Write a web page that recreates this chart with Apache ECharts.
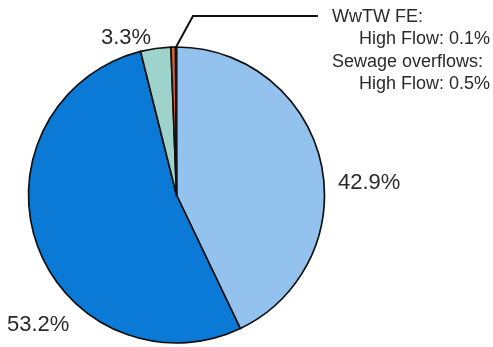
<!DOCTYPE html>
<html>
<head>
<meta charset="utf-8">
<script src="https://cdn.jsdelivr.net/npm/echarts@6/dist/echarts.min.js"></script>
<style>
html,body{margin:0;padding:0;background:#fff;}
#chart{width:493px;height:347px;}
</style>
</head>
<body>
<div id="chart"></div>
<script>
// Data (clockwise from 12 o'clock)
const sourceNames = ['Source A', 'Source B', 'Source C', 'Sewage overflows', 'WwTW FE'];
const flowLabels = ['', '', '', 'High Flow', 'High Flow'];
const shares = [42.9, 53.2, 3.3, 0.5, 0.1];
const sliceColors = ['#93c2ef', '#0a7ad6', '#9ed3cc', '#d3623a', '#a8321e'];

const chart = echarts.init(document.getElementById('chart'), null, {renderer: 'canvas'});

const data = shares.map((v, i) => ({
  name: sourceNames[i],
  value: v,
  itemStyle: {color: sliceColors[i]},
  labelLine: {show: i === 4, lineStyle: {color: '#111', width: 2}}
}));

// label placement (x, y, align, verticalAlign)
const labelPos = [
  {x: 338, y: 183, align: 'left', verticalAlign: 'middle'},
  {x: 7, y: 325, align: 'left', verticalAlign: 'middle'},
  {x: 101, y: 38, align: 'left', verticalAlign: 'middle'},
  {x: 332, y: 51, align: 'left', verticalAlign: 'top'},
  {x: 332, y: 6, align: 'left', verticalAlign: 'top'}
];

chart.setOption({
  animation: false,
  series: [{
    type: 'pie',
    center: [176.5, 195],
    radius: 148,
    startAngle: 90,
    clockwise: true,
    avoidLabelOverlap: false,
    itemStyle: {borderColor: '#111', borderWidth: 1.7},
    label: {
      show: true,
      fontFamily: 'Liberation Sans, Arial, sans-serif',
      fontSize: 22,
      color: '#2a2a2a',
      formatter: function (p) {
        const i = p.dataIndex;
        if (flowLabels[i]) {
          const head = i === 4 ? 'WwTW FE:' : p.name + ':';
          return '{a|' + head + '}\n{b|' + flowLabels[i] + ': ' + p.value.toFixed(1) + '%}';
        }
        return p.value.toFixed(1) + '%';
      },
      rich: {
        a: {fontFamily: 'Liberation Sans, Arial, sans-serif', fontSize: 18, lineHeight: 22, color: '#2a2a2a', align: 'left'},
        b: {fontFamily: 'Liberation Sans, Arial, sans-serif', fontSize: 18, lineHeight: 22, color: '#2a2a2a', align: 'right'}
      }
    },
    labelLine: {show: false},
    labelLayout: function (params) {
      const i = params.dataIndex;
      const pos = Object.assign({}, labelPos[i]);
      if (i === 4) {
        const start = (params.labelLinePoints && params.labelLinePoints[0]) || [176, 47];
        pos.labelLinePoints = [start, [193, 16], [318, 16]];
      }
      if (i >= 3) {
        pos.width = 158;
      }
      return pos;
    },
    data: data
  }]
});
</script>
</body>
</html>
